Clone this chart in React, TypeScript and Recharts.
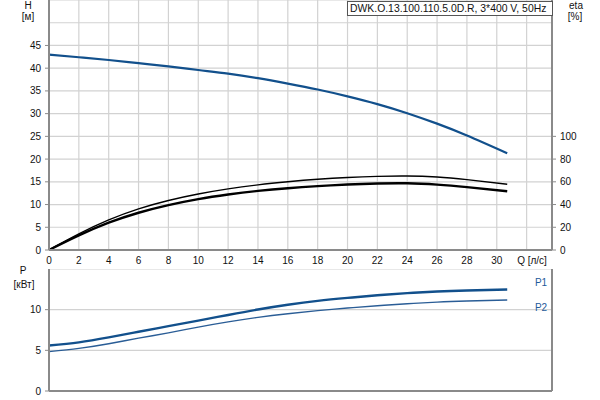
import { LineChart, Line, XAxis, YAxis, CartesianGrid } from "recharts";

const FONT = "'Liberation Sans', Arial, sans-serif";

// flow, l/s
const qValues = [0, 2, 4, 6, 8, 10, 12, 14, 16, 18, 20, 22, 24, 26, 28, 30.7];
// head, m
const headValues = [43, 42.4, 41.8, 41.1, 40.4, 39.6, 38.8, 37.8, 36.6, 35.3, 33.8, 32.1, 30.1, 27.8, 25.2, 21.3];
// efficiency, %
const etaUpper = [0, 14.2, 26.5, 36.2, 43.6, 49.3, 53.8, 57.3, 60, 62.2, 63.8, 64.8, 65.1, 64.2, 61.9, 57.9];
const etaLower = [0, 12.8, 24, 32.8, 39.5, 44.8, 48.8, 52, 54.4, 56.2, 57.6, 58.5, 58.7, 57.5, 55.3, 51.7];
// power, kW
const p1Values = [5.6, 5.98, 6.59, 7.28, 7.97, 8.66, 9.35, 10.02, 10.6, 11.08, 11.45, 11.77, 12.03, 12.23, 12.36, 12.48];
const p2Values = [4.84, 5.24, 5.81, 6.5, 7.15, 7.86, 8.5, 9.05, 9.5, 9.88, 10.2, 10.49, 10.73, 10.93, 11.06, 11.18];

const qTicks = [0, 2, 4, 6, 8, 10, 12, 14, 16, 18, 20, 22, 24, 26, 28, 30];
const qGrid = [0, 2, 4, 6, 8, 10, 12, 14, 16, 18, 20, 22, 24, 26, 28, 30, 32];
const hTicks = [0, 5, 10, 15, 20, 25, 30, 35, 40, 45];
const hGrid = [0, 5, 10, 15, 20, 25, 30, 35, 40, 45, 50, 55];
const etaTicks = [0, 20, 40, 60, 80, 100];
const pTicks = [0, 5, 10];
const pGrid = [0, 5, 10, 15];

const title = "DWK.O.13.100.110.5.0D.R, 3*400 V, 50Hz";

const data = qValues.map((q, i) => ({
  q,
  h: headValues[i],
  etaA: etaUpper[i],
  etaB: etaLower[i],
  p1: p1Values[i],
  p2: p2Values[i],
}));

const AXIS = "#8a8a8a";
const GRID = "#d2d2d2";
const BLUE = "#12508c";
const tick = { fontSize: 10, fill: "#111", fontFamily: FONT };

const label = (text: string, x: number, y: number, color = "#111") => (
  <div
    style={{
      position: "absolute",
      left: x - 30,
      top: y - 7,
      width: 60,
      height: 14,
      lineHeight: "14px",
      textAlign: "center",
      fontSize: 10,
      color,
      fontFamily: FONT,
      whiteSpace: "nowrap",
    }}
  >
    {text}
  </div>
);

export default function App() {
  return (
    <div style={{ position: "absolute", left: 0, top: 0, width: 600, height: 400, background: "#fff" }}>
      {/* head + efficiency */}
      <LineChart
        width={600}
        height={268}
        data={data}
        margin={{ top: 0, right: 0, bottom: 0, left: 0 }}
        style={{ position: "absolute", left: 0, top: 0 }}
      >
        <CartesianGrid
          yAxisId="h"
          stroke={GRID}
          strokeWidth={1.2}
          horizontalValues={hGrid}
          verticalValues={qGrid}
        />
        <XAxis
          dataKey="q"
          type="number"
          domain={[0, 33.7]}
          ticks={qTicks}
          tick={tick}
          tickLine={false}
          tickSize={5}
          tickMargin={2}
          height={18}
          stroke={AXIS}
          axisLine={{ stroke: AXIS, strokeWidth: 2 }}
          interval={0}
        />
        <YAxis
          yAxisId="h"
          domain={[0, 55]}
          ticks={hTicks}
          tick={tick}
          width={49}
          tickSize={4}
          tickMargin={4}
          axisLine={{ stroke: AXIS, strokeWidth: 2 }}
          tickLine={{ stroke: AXIS }}
          interval={0}
        />
        <YAxis
          yAxisId="eta"
          orientation="right"
          domain={[0, 220]}
          ticks={etaTicks}
          tick={tick}
          width={48}
          tickSize={4}
          tickMargin={4}
          axisLine={{ stroke: AXIS, strokeWidth: 2 }}
          tickLine={{ stroke: AXIS }}
          interval={0}
        />
        <Line yAxisId="eta" type="natural" dataKey="etaA" stroke="#000" strokeWidth={1.4} dot={false} isAnimationActive={false} />
        <Line yAxisId="eta" type="natural" dataKey="etaB" stroke="#000" strokeWidth={2.4} dot={false} isAnimationActive={false} />
        <Line yAxisId="h" type="natural" dataKey="h" stroke={BLUE} strokeWidth={2.2} dot={false} isAnimationActive={false} />
      </LineChart>

      {/* power */}
      <LineChart
        width={600}
        height={131}
        data={data}
        margin={{ top: 0, right: 0, bottom: 0, left: 0 }}
        style={{ position: "absolute", left: 0, top: 269 }}
      >
        <CartesianGrid
          yAxisId="p"
          stroke={GRID}
          strokeWidth={1.2}
          horizontalValues={pGrid}
          verticalValues={qGrid}
        />
        <XAxis
          dataKey="q"
          type="number"
          domain={[0, 33.7]}
          ticks={qTicks}
          tick={false}
          tickLine={false}
          height={9}
          axisLine={{ stroke: AXIS, strokeWidth: 2 }}
        />
        <YAxis
          yAxisId="p"
          domain={[0, 15]}
          ticks={pTicks}
          tick={tick}
          width={49}
          tickSize={4}
          tickMargin={4}
          axisLine={{ stroke: AXIS, strokeWidth: 2 }}
          tickLine={{ stroke: AXIS }}
          interval={0}
        />
        <YAxis
          yAxisId="r"
          orientation="right"
          domain={[0, 15]}
          tick={false}
          tickLine={false}
          width={48}
          axisLine={{ stroke: AXIS, strokeWidth: 2 }}
        />
        <Line yAxisId="p" type="natural" dataKey="p2" stroke="#2a5d96" strokeWidth={1.4} dot={false} isAnimationActive={false} />
        <Line yAxisId="p" type="natural" dataKey="p1" stroke={BLUE} strokeWidth={2.4} dot={false} isAnimationActive={false} />
      </LineChart>

      {/* title box */}
      <div
        style={{
          position: "absolute",
          left: 347,
          top: 1,
          width: 202,
          height: 13,
          border: "1px solid #555",
          background: "#fff",
          fontSize: 10.4,
          lineHeight: "13px",
          paddingLeft: 2,
          boxSizing: "content-box",
          fontFamily: FONT,
          color: "#111",
          whiteSpace: "nowrap",
          overflow: "hidden",
        }}
      >
        {title}
      </div>

      {label("H", 28, 6)}
      {label("[м]", 28, 17)}
      {label("eta", 576, 6)}
      {label("[%]", 575, 17)}
      {label("Q [л/с]", 532, 261)}
      {label("P", 23, 271)}
      {label("[кВт]", 24, 285)}
      {label("P1", 541, 283, "#1f5a9a")}
      {label("P2", 541, 308, "#1f5a9a")}
    </div>
  );
}
